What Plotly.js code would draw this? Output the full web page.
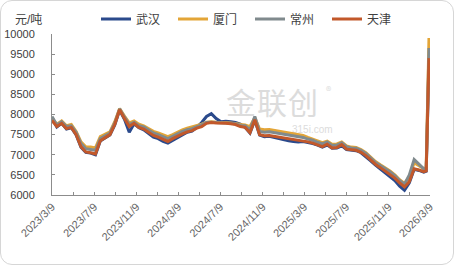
<!DOCTYPE html>
<html><head><meta charset="utf-8">
<script src="https://cdn.plot.ly/plotly-3.0.1.min.js"></script>
<style>
html,body{margin:0;padding:0;background:#fff;}
#wrap{position:relative;width:454px;height:265px;overflow:hidden;}
#wm{position:absolute;left:0;top:0;width:454px;height:265px;font-family:"Noto Sans CJK SC",sans-serif;color:#dcdcdc;}
#chart{position:absolute;left:0;top:0;width:454px;height:265px;}
#frame{position:absolute;left:0;top:0;width:452px;height:263px;border:1px solid #d6d6d6;border-radius:12px;pointer-events:none;}
</style></head>
<body>
<div id="wrap">
  <div id="wm">
    <div style="position:absolute;left:226px;top:86px;font-size:30px;line-height:30px;letter-spacing:1px;">金联创</div>
    <div style="position:absolute;left:326px;top:84px;font-size:11px;line-height:12px;">®</div>
    <div style="position:absolute;left:292px;top:124px;font-size:10px;line-height:11px;font-family:'Liberation Sans',sans-serif;">315i.com</div>
  </div>
  <div id="chart"></div>
  <div id="frame"></div>
</div>
<script>
const dates = ["2023-03-09","2023-03-23","2023-04-06","2023-04-20","2023-05-04","2023-05-18","2023-06-01","2023-06-15","2023-06-29","2023-07-13",
"2023-07-27","2023-08-10","2023-08-24","2023-09-07","2023-09-21","2023-10-05","2023-10-19","2023-11-02","2023-11-16","2023-11-30",
"2023-12-14","2023-12-28","2024-01-11","2024-01-25","2024-02-08","2024-02-22","2024-03-07","2024-03-21","2024-04-04","2024-04-18",
"2024-05-02","2024-05-16","2024-05-30","2024-06-13","2024-06-27","2024-07-11","2024-07-25","2024-08-08","2024-08-22","2024-09-05",
"2024-09-19","2024-10-03","2024-10-17","2024-10-31","2024-11-14","2024-11-28","2024-12-12","2024-12-26","2025-01-09","2025-01-23",
"2025-02-06","2025-02-20","2025-03-06","2025-03-20","2025-04-03","2025-04-17","2025-05-01","2025-05-15","2025-05-29","2025-06-12",
"2025-06-26","2025-07-10","2025-07-24","2025-08-07","2025-08-21","2025-09-04","2025-09-18","2025-10-02","2025-10-16","2025-10-30",
"2025-11-13","2025-11-27","2025-12-11","2025-12-25","2026-01-08","2026-01-22","2026-02-05","2026-02-19","2026-02-26","2026-03-06"];

const wuhan = [7920,7690,7780,7640,7670,7490,7190,7060,7040,7000,
7340,7410,7490,7740,8110,7880,7560,7770,7670,7620,
7520,7440,7400,7330,7290,7360,7440,7500,7560,7590,
7680,7800,7950,8020,7900,7820,7830,7820,7800,7760,
7680,7540,7860,7490,7450,7460,7430,7400,7370,7350,
7330,7320,7330,7310,7280,7240,7190,7240,7160,7170,
7220,7130,7110,7100,7050,6960,6850,6740,6650,6560,
6460,6360,6220,6120,6300,6640,6610,6570,6590,9300];

const xiamen = [7900,7760,7840,7720,7750,7580,7320,7200,7190,7170,
7450,7500,7570,7820,8150,7960,7790,7840,7760,7720,
7640,7580,7540,7490,7450,7500,7570,7620,7660,7690,
7730,7760,7810,7820,7810,7810,7800,7790,7780,7750,
7740,7700,7920,7640,7620,7630,7610,7590,7570,7550,
7530,7510,7480,7430,7390,7350,7300,7340,7260,7270,
7320,7220,7190,7180,7130,7050,6940,6830,6750,6680,
6600,6500,6380,6290,6450,6800,6720,6650,6680,9900];

const changzhou = [7950,7740,7820,7700,7720,7560,7280,7150,7130,7110,
7400,7470,7540,7790,8140,7940,7750,7810,7720,7690,
7610,7540,7500,7440,7400,7460,7530,7580,7620,7650,
7700,7740,7800,7810,7800,7800,7790,7780,7770,7730,
7720,7620,7950,7580,7560,7570,7550,7530,7510,7490,
7470,7450,7430,7390,7360,7310,7270,7320,7230,7240,
7300,7200,7170,7160,7110,7030,6920,6810,6730,6660,
6580,6480,6360,6270,6500,6880,6760,6650,6660,9650];

const tianjin = [7850,7700,7780,7650,7680,7500,7200,7070,7050,7020,
7350,7420,7500,7750,8120,7900,7700,7780,7680,7640,
7560,7480,7440,7380,7330,7400,7470,7520,7570,7600,
7660,7700,7780,7800,7790,7790,7780,7770,7750,7700,
7680,7550,7870,7500,7470,7480,7460,7440,7420,7400,
7380,7360,7350,7320,7290,7250,7200,7260,7170,7180,
7250,7140,7120,7110,7060,6980,6870,6760,6680,6600,
6520,6420,6300,6200,6330,6650,6620,6580,6600,9400];

const seriesNames = ["武汉","厦门","常州","天津"];
const seriesData = [wuhan, xiamen, changzhou, tianjin];
const colors = ["#2B4A8C","#E3A537","#808A8D","#C2582A"];

const font = '"Liberation Sans", Arial, "Noto Sans CJK SC", sans-serif';

const traces = seriesNames.map((n,i)=>({
  type:'scatter', mode:'lines', name:n, x:dates, y:seriesData[i],
  line:{color:colors[i], width:3}
}));

const layout = {
  width:454, height:265,
  margin:{l:52, r:24, t:34, b:70},
  paper_bgcolor:'rgba(0,0,0,0)', plot_bgcolor:'rgba(0,0,0,0)',
  font:{family:font, size:11, color:'#595959'},
  showlegend:true,
  legend:{orientation:'h', x:(96-52)/378, xanchor:'left', xref:'paper', y:1-19/265, yanchor:'middle', yref:'container',
    font:{size:12, color:'#404040'}, itemwidth:30, entrywidth:32, traceorder:'normal', bgcolor:'rgba(0,0,0,0)'},
  xaxis:{type:'date', range:['2023-03-09','2026-03-09'], tick0:'2023-03-09', dtick:'M4',
    tickformat:'%Y/%-m/%-d', tickangle:-45, ticks:'inside', ticklen:3, tickcolor:'#8c8c8c',
    showline:true, linecolor:'#8c8c8c', linewidth:1, showgrid:false, zeroline:false,
    tickfont:{size:11, color:'#666666'},
    minor:{dtick:'M2', tick0:'2023-03-09', ticks:'inside', ticklen:3, tickcolor:'#8c8c8c', showgrid:false}},
  yaxis:{range:[6000,10000], dtick:500, tick0:6000, tickformat:'d', ticks:'inside', ticklen:3, tickcolor:'#8c8c8c',
    showline:true, linecolor:'#8c8c8c', linewidth:1, showgrid:false, zeroline:false, ticklabelstandoff:14,
    tickfont:{size:11, color:'#404040'}},
  annotations:[{text:'元/吨', xref:'paper', yref:'paper', x:(28-52)/378, y:1+(34-20)/161.5,
    showarrow:false, xanchor:'center', yanchor:'middle', font:{size:12, color:'#404040', family:font}}]
};

Plotly.newPlot('chart', traces, layout, {displayModeBar:false, staticPlot:true});
</script>
</body></html>
